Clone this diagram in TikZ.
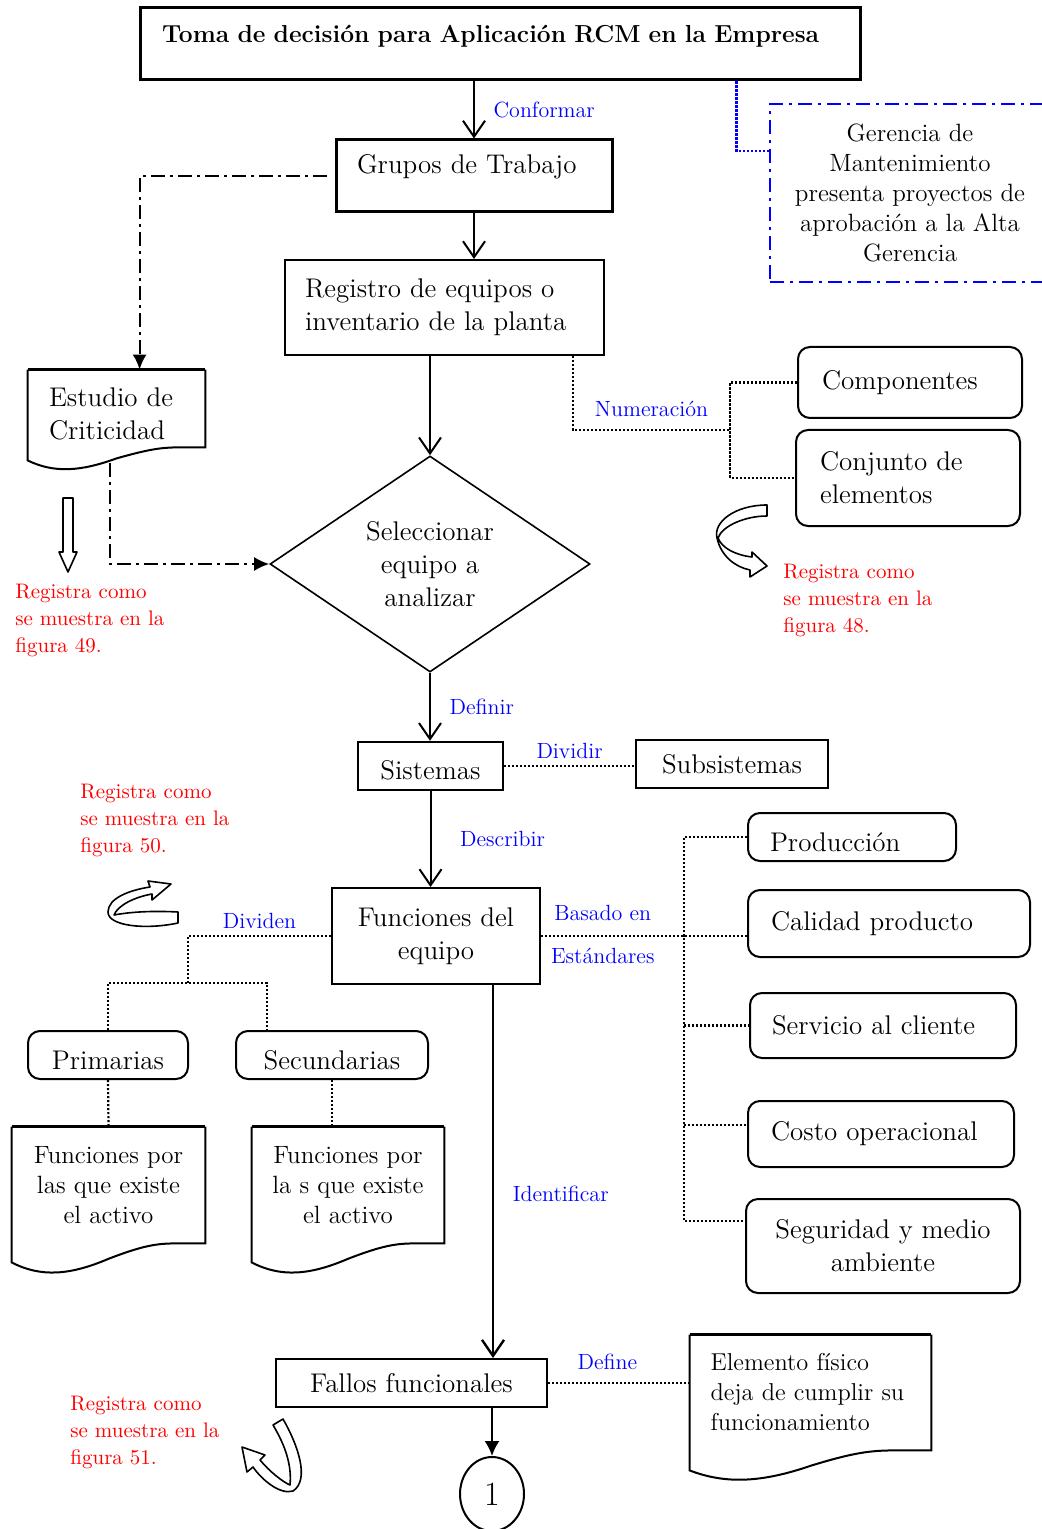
\documentclass[tikz,border=0pt]{standalone}
\usetikzlibrary{arrows.meta, shapes.geometric, calc}

\tikzset{
	box/.style = {draw, line width=1pt, inner sep=0pt, font=\fontsize{13.5}{16.5}\selectfont},
	rbox/.style = {box, rounded corners=6pt},
	doc/.style = {inner sep=0pt, align=center, font=\fontsize{12.5}{15}\selectfont},
	note/.style = {red, inner sep=0pt, anchor=west, align=left, font=\fontsize{10.5}{13.5}\selectfont},
	verb/.style = {blue, font=\fontsize{11}{13}\selectfont},
	flow/.style = {line width=1pt, -{Straight Barb[length=8pt, width=11pt]}},
	dots/.style = {line width=1.1pt, dash pattern=on 1.1pt off 0.9pt},
	dashdot/.style = {line width=1pt, dash pattern=on 7pt off 2.5pt on 1.5pt off 2.5pt},
	band/.style = {line width=0.8pt, fill=white, line join=round}
}

% paper sheet outline: node, drop at the left corner, depth of the wave
\newcommand{\docframe}[3]{%
	\draw[line width=1.5pt] (#1.north west) -- (#1.north east);
	\draw[line width=1pt] (#1.north east) -- (#1.south east)
		-- ($(#1.south west)!0.85!(#1.south east)$)
		.. controls ($(#1.south west)!0.75!(#1.south east)$) and ($(#1.south west)!0.68!(#1.south east)+(0,2)$)
		.. ($(#1.south west)!0.5!(#1.south east)+(0,#3*0.55)$)
		.. controls ($(#1.south west)!0.3!(#1.south east)+(0,#3+4)$) and ($(#1.south west)!0.15!(#1.south east)+(0,#3+6)$)
		.. ($(#1.south west)+(0,#2)$) -- (#1.north west);
}

\begin{document}
\begin{tikzpicture}[x=0.5pt, y=-0.5pt]

	\useasboundingbox (0,0) rectangle (1041,1529);

	% Main column

	\node[box, line width=1.5pt, minimum height=36pt, align=left, text width=338pt, inner xsep=11pt,
		font=\bfseries\fontsize{12.3}{14}\selectfont, text height=8.8pt, text depth=10.3pt]
		(title) at (500,44) {Toma de decisión para Aplicación RCM en la Empresa};
	\node[box, line width=1.5pt, minimum height=36pt, align=left, text width=117pt, inner xsep=10.5pt,
		text height=9.4pt, text depth=11.6pt] (grupos) at (474,176) {Grupos de Trabajo};
	\node[box, align=left, text width=139.5pt, inner xsep=10pt, minimum height=47.5pt]
		(registro) at (444.5,307.5) {Registro de equipos o\\inventario de la planta};
	\node[diamond, draw, line width=0.8pt, aspect=1.48, minimum width=160pt, minimum height=108pt,
		inner sep=0pt, align=center, font=\fontsize{13.5}{16.5}\selectfont]
		(sel) at (430,564) {Seleccionar\\equipo a\\analizar};
	\node[box, line width=1.2pt, minimum width=72.5pt, minimum height=24pt,
		text height=13.2pt, text depth=0pt] (sis) at (430.5,766) {Sistemas};
	\node[box, minimum width=96pt, minimum height=24pt] (sub) at (732,764) {Subsistemas};
	\node[box, align=center, minimum width=104pt, minimum height=48pt] (func) at (436,936) {Funciones del\\equipo};
	\node[box, minimum width=135.5pt, minimum height=24pt] (fallos) at (411.5,1383) {Fallos funcionales};
	\node[ellipse, draw, line width=1pt, minimum width=32pt, minimum height=37pt, inner sep=0pt,
		font=\fontsize{17}{20}\selectfont] (one) at (492,1494) {1};

	% Side boxes

	\node[doc, draw=blue, line width=1pt, dash pattern=on 7pt off 3pt on 1.5pt off 3pt,
		minimum width=140pt, minimum height=89pt] (ger) at (910,193)
		{Gerencia de\\Mantenimiento\\presenta proyectos de\\aprobación a la Alta\\Gerencia};
	\node[doc, align=left, text width=67.5pt, inner xsep=10.5pt, minimum height=38.5pt,
		font=\fontsize{13.5}{16.5}\selectfont] (estudio) at (116.5,408.5) {\rule{0pt}{15pt}Estudio de\\Criticidad};
	\node[rbox, align=left, text width=88pt, inner xsep=12pt, minimum height=35.5pt] (comp) at (910,382.5) {Componentes};
	\node[rbox, align=left, text width=88pt, inner xsep=12pt, minimum height=48pt] (conj) at (908,478) {Conjunto de\\elementos};

	\node[rbox, minimum width=80pt, minimum height=24pt, text height=14pt, text depth=0pt] (prim) at (108,1055) {Primarias};
	\node[rbox, minimum width=96pt, minimum height=24pt, text height=14pt, text depth=0pt] (sec) at (332,1055) {Secundarias};
	\node[doc, minimum width=96.5pt, minimum height=58pt] (fpri) at (108.5,1185) {Funciones por\\las que existe\\el activo};
	\node[doc, minimum width=96pt, minimum height=58pt] (fsec) at (348,1185) {Funciones por\\la s que existe\\el activo};

	\node[rbox, align=left, text width=82pt, inner xsep=11pt, minimum height=24pt,
		text height=14.6pt, text depth=0pt] (prod) at (852,837) {Producción};
	\node[rbox, align=left, text width=118pt, inner xsep=11.5pt, minimum height=33.5pt] (cal) at (889,923.5) {Calidad producto};
	\node[rbox, align=left, text width=111pt, inner xsep=11pt, minimum height=32.5pt] (serv) at (883,1025.5) {Servicio al cliente};
	\node[rbox, align=left, text width=110pt, inner xsep=11.5pt, minimum height=33pt] (costo) at (881,1134) {Costo operacional};
	\node[rbox, align=center, minimum width=137pt, minimum height=47pt] (seg) at (883,1246) {Seguridad y medio\\ambiente};

	\node[doc, align=left, text width=100pt, inner xsep=10.25pt, minimum height=57.5pt,
		font=\fontsize{12.2}{15}\selectfont] (elem) at (810.5,1392.5)
		{Elemento físico\\deja de cumplir su\\funcionamiento};

	\docframe{estudio}{13}{20}
	\docframe{fpri}{19}{28}
	\docframe{fsec}{19}{28}
	\docframe{elem}{20}{28}

	% Arrows down the main column

	\draw[flow] (grupos.north |- title.south) -- node[verb, right=6pt] (lconf) {Conformar} (grupos.north);
	\draw[flow] (grupos.south) -- (grupos.south |- registro.north);
	\draw[flow] (sel.north |- registro.south) -- (sel.north);
	\draw[flow] (sel.south) -- node[verb, right=6pt] (ldef) {Definir} (sel.south |- sis.north);
	\draw[flow] (sis.south) -- node[verb, right=11pt] (ldesc) {Describir} (sis.south |- func.north);

	\coordinate (idtop) at ($(func.south east)+(-48,0)$);
	\draw[flow, line width=1.2pt] (idtop) -- node[verb, right=6pt, pos=.56] (lident) {Identificar} (idtop |- fallos.north);
	\draw[line width=1pt, -{Latex[length=7.5pt, width=7.5pt]}] (one.north |- fallos.south) -- (one.north);

	% Dash-dot links to the criticality study

	\begin{scope}[dashdot, -{Latex[length=7.5pt, width=7pt]}]

		\draw ([xshift=-4pt]grupos.west) -| ($(estudio.north west)+(112,0)$);
		\draw ($(estudio.south west)+(82,16)$) |- (sel.west);

	\end{scope}

	\draw[blue, dots] ($(title.south west)+(598,0)$) |- ($(ger.north west)+(0,48)$);

	% Dotted branches

	\coordinate (numj) at (730,430);
	\draw[dots] ($(registro.south east)+(-32,0)$) |- node[verb, above=3pt, pos=.75] (lnum) {Numeración} (numj);
	\draw[dots] (comp.west) -| (numj) |- (conj.west);

	\draw[dots] (sis.east) -- node[verb, above] (ldiv) {Dividir} (sis.east -| sub.west);

	\coordinate (divj) at (188,983);
	\draw[dots] (func.west) -| node[verb, above, pos=.25] (ldvd) {Dividen} (divj);
	\draw[dots] (prim.north) |- (divj) -| ($(sec.north west)+(32,0)$);
	\draw[dots] (prim.south) -- (fpri.north);
	\draw[dots] (sec.south) -- (sec.south |- fsec.north);

	\coordinate (spine) at (684,936);
	\coordinate (costin) at ($(costo.west)+(0,-9)$);
	\coordinate (segin) at ($(seg.west)+(0,-25)$);
	\draw[dots] (func.east) -- node[verb, above=4pt, pos=.3] (lbas) {Basado en}
		node[verb, below=2pt, pos=.3] (lest) {Estándares} (func.east -| cal.west);
	\draw[dots] (prod.west) -| (spine) |- (segin);
	\draw[dots] (spine |- serv.west) -- (serv.west);
	\draw[dots] (spine |- costin) -- (costin);

	\draw[dots] (fallos.east) -- node[verb, above=3pt, pos=.42] (ldefn) {Define} (fallos.east -| elem.west);

	% Notes and their block arrows

	\node[note] (n49) at (15,620) {Registra como\\se muestra en la\\figura 49.};
	\node[note] (n48) at (783,600) {Registra como\\se muestra en la\\figura 48.};
	\node[note] (n50) at (80,820) {Registra como\\se muestra en la\\figura 50.};
	\node[note] (n51) at (70,1432) {Registra como\\se muestra en la\\figura 51.};

	\draw[band] (63,498) -- (73,498) -- (73,552) -- (77,552) -- (68,572) -- (59,552) -- (63,552) -- cycle;

	\draw[band] (767,505) .. controls (735,505) and (713,522) .. (717,538)
		.. controls (721,556) and (735,567) .. (750,570) -- (750,577) -- (767,566) -- (752,552) -- (752,557)
		.. controls (735,555) and (722,548) .. (718,538) .. controls (722,526) and (745,516) .. (767,516) -- cycle;

	\draw[band] (178,923) .. controls (145,930) and (108,926) .. (108,912)
		.. controls (108,898) and (130,890) .. (150,887) -- (148,881) -- (171,884) -- (152,900) -- (152,894)
		.. controls (135,897) and (118,905) .. (114,915) .. controls (135,911) and (160,911) .. (178,912) -- cycle;

	\draw[band] (283,1419) .. controls (298,1445) and (310,1480) .. (293,1491)
		.. controls (280,1495) and (262,1480) .. (253,1467) -- (247,1472) -- (242,1447) -- (265,1455) -- (260,1460)
		.. controls (270,1472) and (283,1482) .. (290,1485) .. controls (292,1465) and (285,1445) .. (273,1425) -- cycle;

\end{tikzpicture}
\end{document}
